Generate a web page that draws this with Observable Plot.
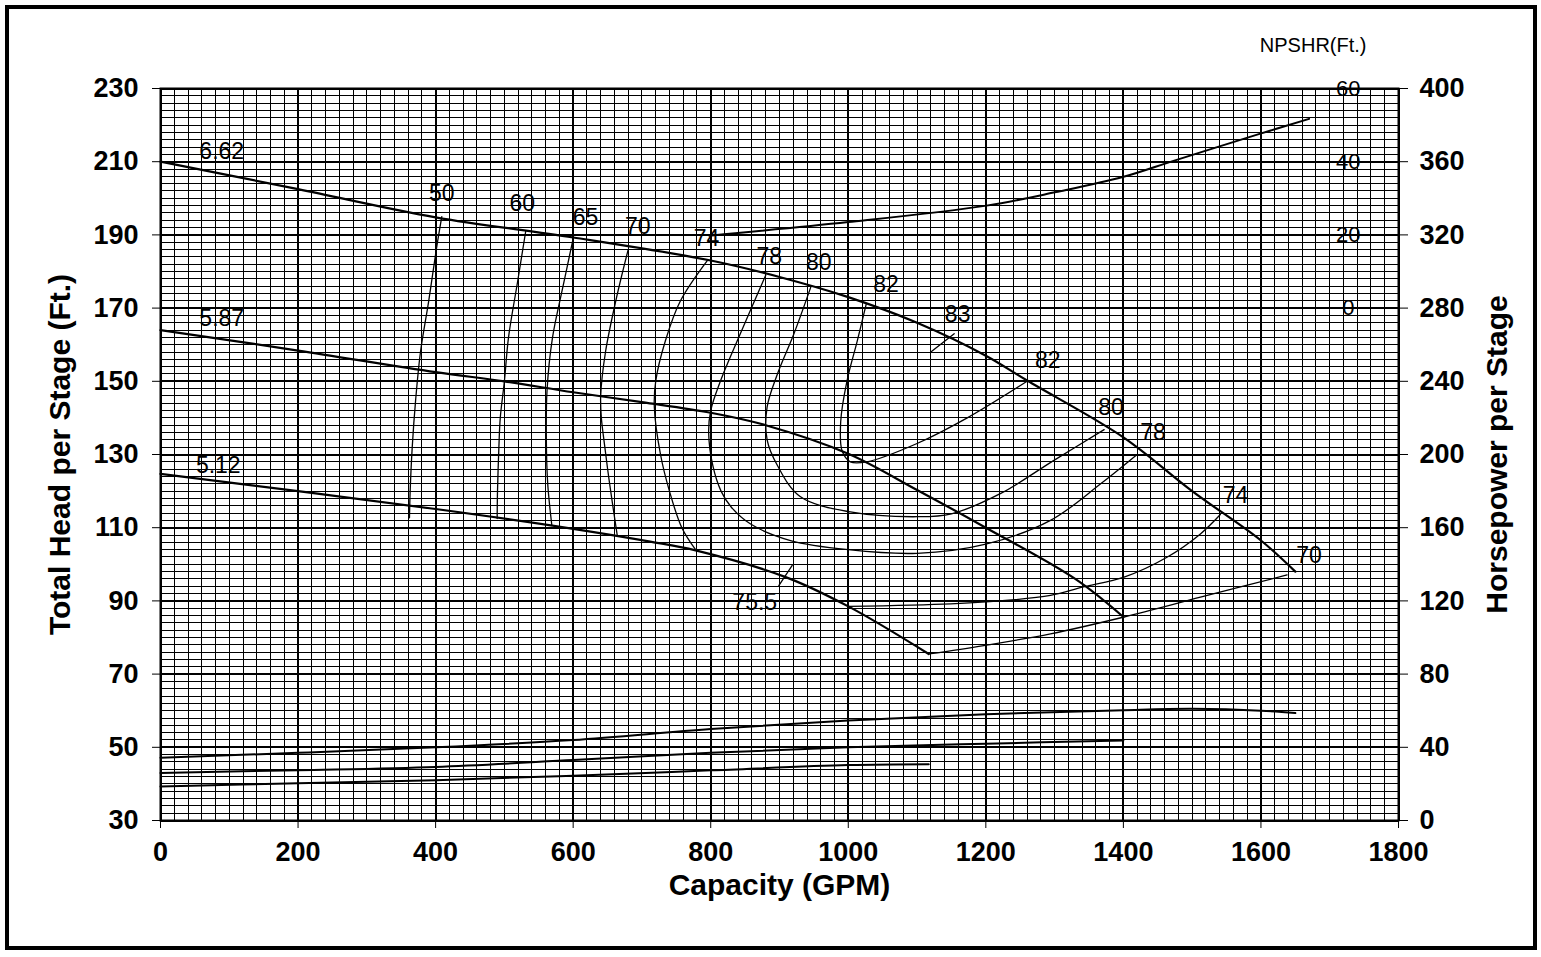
<!DOCTYPE html>
<html>
<head>
<meta charset="utf-8">
<script src="https://cdn.jsdelivr.net/npm/d3@7"></script>
<script src="https://cdn.jsdelivr.net/npm/@observablehq/plot@0.6"></script>
<style>
  html, body { margin: 0; padding: 0; background: #fff; }
  #wrap { position: relative; width: 1541px; height: 957px; overflow: hidden; }
  #border { position: absolute; left: 5px; top: 5px; width: 1532px; height: 945px; box-sizing: border-box; border: 4px solid #000; pointer-events: none; }
</style>
</head>
<body>
<div id="wrap"><div id="chart"></div><div id="border"></div></div>
<script>
// ---- axes ----
const xTicks = [0, 200, 400, 600, 800, 1000, 1200, 1400, 1600, 1800];
const headTicks = [30, 50, 70, 90, 110, 130, 150, 170, 190, 210, 230];
const hpTicks = [0, 40, 80, 120, 160, 200, 240, 280, 320, 360, 400];
const npshrTicks = [0, 20, 40, 60];

// ---- head-capacity curves per impeller diameter [GPM, ft] ----
const head662 = [[0,210],[200,202.5],[400,194.8],[600,189.3],[800,183],[900,178.5],[1000,173],[1100,166],[1200,157],[1260,150.2],[1400,134.7],[1500,120],[1600,106.5],[1650,98]];
const head587 = [[0,164],[200,158.4],[400,152.5],[500,150],[600,147],[700,144.3],[800,141.4],[880,138],[1000,130.2],[1100,120.3],[1200,110],[1330,96],[1400,85.6]];
const head512 = [[0,124.7],[200,120],[400,115.1],[600,109.7],[712,106.2],[778,103.8],[909,96.5],[1000,88.5],[1117,75.5]];

// ---- horsepower per stage [GPM, HP] ----
const hp662 = [[0,34.3],[200,37],[400,40],[600,44],[800,50],[1000,54.7],[1200,58],[1400,60.3],[1500,61],[1600,60],[1650,58.7]];
const hp587 = [[0,26],[200,27.5],[400,29.3],[600,33],[800,37],[1000,40],[1200,42],[1400,43.7]];
const hp512 = [[0,18.6],[200,20.4],[400,22],[600,24.5],[800,27.4],[1000,30.3],[1117,30.8]];

// ---- NPSHR [GPM, ft] ----
const npshr = [[798,19.8],[1000,23.5],[1201,28],[1302,31.7],[1399,35.8],[1474,40.3],[1598,47.6],[1670,51.7]];

// ---- iso-efficiency curves [GPM, head ft] ----
const eff50 = [[409,195],[401,186],[390,172],[378,158],[371,145],[366,132],[363,120],[362,112.7]];
const eff60 = [[531,191],[519,177],[506,162],[500,150],[494,140],[492,132],[490,120],[489.5,112.5]];
const eff65 = [[600,189],[586,176.6],[570,162],[562,147.5],[561,134],[563,122],[569,110.6]];
const eff70 = [[680,186],[662,172],[647,158],[640,146],[641,140],[644,135],[653,122],[664,108]];
const eff70b = [[1117,75.5],[1197,77.8],[1294,81],[1401,85.6],[1512,91],[1638,97.1]];
const eff74 = [[795,183],[756,172],[734,161],[720,150],[718,143],[727,130],[740,120],[758,110],[778,104]];
const eff74b = [[1001,88.5],[1149,89.2],[1221,90],[1294,91.5],[1342,93.8],[1401,96.5],[1464,102],[1512,108.3],[1541,113.6]];
const eff78 = [[880,179],[843,163],[814,150],[800,142],[797,136],[803,127],[815,120],[830,115.6],[858,111],[916,106.5],[1000,104],[1100,103],[1200,105.5],[1294,112],[1367,122],[1420,130]];
const eff80 = [[946,176],[921,163],[897,152],[882,143],[882,134],[897,127],[930,118.5],[1003,114.3],[1100,113],[1150,113.8],[1221,119.3],[1299,128.4],[1372,136.8]];
const eff82 = [[1026,171],[1013,161],[998,150],[989,139],[991,131],[1003,128],[1027,128],[1100,133],[1173,140],[1260,150]];
const tick83 = [[1120,158],[1154,163]];
const tick755 = [[899,94.2],[918.5,99.7]];

// ---- labels ----
const impellerLabels = [["6.62",89,212.8],["5.87",89,167.1],["5.12",84,127]];
const effLabels = [["50",409,201.4],["60",526,198.5],["65",618,194.8],["70",694,192.3],["74",794,188.9],["78",885,184.1],["80",957,182.3],["82",1055,176.5],["83",1159,168.3],["82",1290,155.7],["80",1382,142.9],["78",1443,136.1],["74",1563,118.8],["70",1670,102.4],["75.5",864,89.4]];
const npshrLabelGPM = 1727;

const minorX = d3.range(0, 1801, 20);
const minorY = d3.range(30, 231, 2);

const gx = d => d[0];
const line = (data, w, yf) => Plot.line(data, {x: gx, y: yf || (d => d[1]), curve: "catmull-rom", stroke: "#000", strokeWidth: w});

const chart = Plot.plot({
  width: 1541,
  height: 957,
  marginLeft: 160,
  marginRight: 143,
  marginTop: 88,
  marginBottom: 137,
  style: {fontFamily: "'Liberation Sans', Arial, sans-serif", background: "#fff", color: "#000", overflow: "visible"},
  x: {domain: [0, 1800]},
  y: {domain: [30, 230]},
  marks: [
    Plot.ruleX(minorX, {stroke: "#000", strokeWidth: 1, shapeRendering: "crispEdges"}),
    Plot.ruleY(minorY, {stroke: "#000", strokeWidth: 1, shapeRendering: "crispEdges"}),
    Plot.ruleX(xTicks, {stroke: "#000", strokeWidth: 2, shapeRendering: "crispEdges"}),
    Plot.ruleY(headTicks, {stroke: "#000", strokeWidth: 2, shapeRendering: "crispEdges"}),
    Plot.frame({stroke: "#000", strokeWidth: 2}),
    Plot.axisX({ticks: xTicks, tickSize: 8, tickPadding: 13, fontSize: 27, fontWeight: "bold", label: null, tickFormat: d => String(d)}),
    Plot.axisY({ticks: headTicks, anchor: "left", tickSize: 8, tickPadding: 14, fontSize: 27, fontWeight: "bold", label: null, tickFormat: d => String(d)}),
    Plot.axisY({ticks: hpTicks.map(h => h / 2 + 30), anchor: "right", tickSize: 9, tickPadding: 12, fontSize: 27, fontWeight: "bold", label: null, tickFormat: d => String(hpTicks[headTicks.indexOf(d)])}),
    // head curves
    line(head662, 2.2), line(head587, 2.2), line(head512, 2.2),
    // horsepower
    line(hp662, 2, d => d[1] / 2 + 30), line(hp587, 2, d => d[1] / 2 + 30), line(hp512, 2, d => d[1] / 2 + 30),
    // NPSHR
    line(npshr, 2, d => d[1] + 170),
    // efficiency
    line(eff50, 1.3), line(eff60, 1.3), line(eff65, 1.3), line(eff70, 1.3), line(eff70b, 1.3),
    line(eff74, 1.3), line(eff74b, 1.3), line(eff78, 1.3), line(eff80, 1.3), line(eff82, 1.3),
    line(tick83, 1.3), line(tick755, 1.3),
    // labels
    Plot.text(impellerLabels, {x: d => d[1], y: d => d[2], text: d => d[0], fontSize: 23, fill: "#000"}),
    Plot.text(effLabels, {x: d => d[1], y: d => d[2], text: d => d[0], fontSize: 23, fill: "#000"}),
    Plot.text(npshrTicks, {x: () => npshrLabelGPM, y: d => d + 170, text: d => String(d), fontSize: 22, fill: "#000"}),
    Plot.text(["NPSHR(Ft.)"], {frameAnchor: "top-right", dx: -32, dy: -43, textAnchor: "end", lineAnchor: "middle", fontSize: 20, fill: "#000"}),
    // axis titles
    Plot.text(["Capacity (GPM)"], {frameAnchor: "bottom", dy: 65, textAnchor: "middle", lineAnchor: "middle", fontSize: 30, fontWeight: "bold", fill: "#000"}),
    Plot.text(["Total Head per Stage (Ft.)"], {frameAnchor: "left", dx: -100, rotate: -90, textAnchor: "middle", lineAnchor: "middle", fontSize: 30, fontWeight: "bold", fill: "#000"}),
    Plot.text(["Horsepower per Stage"], {frameAnchor: "right", dx: 99, rotate: -90, textAnchor: "middle", lineAnchor: "middle", fontSize: 30, fontWeight: "bold", fill: "#000"})
  ]
});
document.getElementById("chart").appendChild(chart);
</script>
</body>
</html>
